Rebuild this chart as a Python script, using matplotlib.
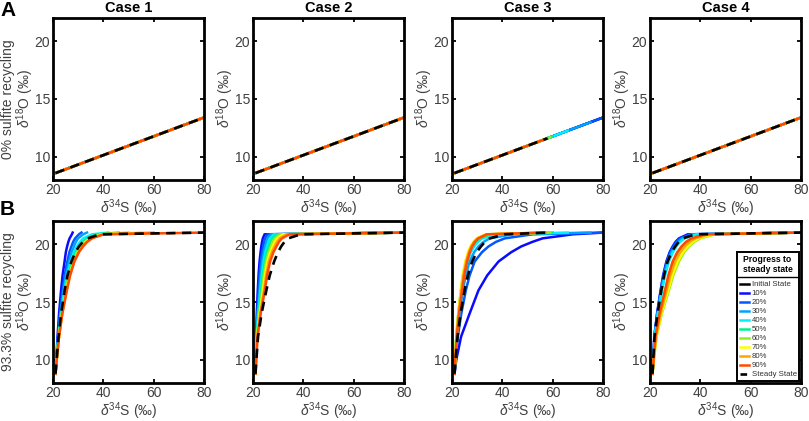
import matplotlib
matplotlib.use('Agg')
import matplotlib.pyplot as plt
from matplotlib.lines import Line2D

plt.rcParams['font.family'] = ['Liberation Sans', 'DejaVu Sans']
plt.rcParams['mathtext.fontset'] = 'custom'
plt.rcParams['mathtext.rm'] = 'Liberation Sans'
plt.rcParams['mathtext.it'] = 'Liberation Sans:italic'

cases = ['Case 1', 'Case 2', 'Case 3', 'Case 4']
progress = ['10%', '20%', '30%', '40%', '50%', '60%', '70%', '80%', '90%']
colours = ['#0a0aff', '#0058ff', '#00a2ff', '#00f0ff', '#00f090',
           '#8cf020', '#ffff00', '#ffa500', '#ff4a00']

# row A: straight lines (0% recycling)
a_start_x, a_start_y = 21.0, 8.6
a_end_x, a_end_y = 80.0, 13.4
case3_a_end_x = [80.0, 80.0, 75.0, 66.0, 60.0, 59.0, 57.0, 57.0, 57.0]
case3_a_end_y = [13.4, 13.4, 12.99, 12.26, 11.77, 11.69, 11.53, 11.53, 11.53]
case3_a_steady_end = (58.0, 11.61)

# row B: d34S read at these d18O levels (93.3% recycling)
y_levels = [8.8, 10.0, 12.0, 14.0, 16.0, 17.3, 18.5, 19.3, 19.8, 20.2, 20.5, 20.85, 21.0]

case1_b = [
    [21.0, 21.27, 21.8, 22.4, 23.2, 23.8, 24.6, 25.1, 25.6, 26.1, 26.6, 27.5, 27.8],
    [21.0, 21.34, 22.0, 22.8, 23.8, 24.6, 25.7, 26.5, 27.3, 28.0, 28.8, 30.3, 31.3],
    [21.0, 21.37, 22.1, 23.0, 24.2, 25.15, 26.4, 27.4, 28.3, 29.1, 30.0, 32.0, 33.5],
    [21.0, 21.41, 22.2, 23.2, 24.5, 25.6, 27.0, 28.3, 29.5, 30.7, 32.0, 35.5, 42.0],
    [21.0, 21.44, 22.3, 23.4, 24.9, 26.05, 27.6, 29.1, 30.4, 31.8, 33.5, 37.5, 46.0],
    [21.0, 21.44, 22.3, 23.5, 25.1, 26.35, 28.0, 29.6, 31.1, 32.7, 34.5, 38.8, 50.0],
    [21.0, 21.48, 22.4, 23.6, 25.3, 26.6, 28.3, 30.0, 31.5, 33.1, 35.0, 39.5, 55.0],
    [21.0, 21.48, 22.4, 23.7, 25.4, 26.7, 28.4, 30.1, 31.7, 33.4, 35.3, 39.8, 60.0],
    [21.0, 21.48, 22.4, 23.7, 25.5, 26.8, 28.5, 30.3, 31.9, 33.6, 35.5, 40.0, 80.0],
]
case1_b_steady = [21.0, 21.41, 22.2, 23.2, 24.6, 25.75, 27.3, 28.9, 30.3, 31.9, 33.8, 38.6, 80.0]

case2_b = [
    [21.0, 21.07, 21.2, 21.5, 21.9, 22.2, 22.6, 23.0, 23.3, 23.6, 23.9, 24.6, 80.0],
    [21.0, 21.1, 21.3, 21.7, 22.25, 22.6, 23.1, 23.6, 24.05, 24.4, 24.85, 25.85, 80.0],
    [21.0, 21.12, 21.35, 21.9, 22.6, 23.05, 23.65, 24.25, 24.8, 25.3, 25.8, 27.1, 80.0],
    [21.0, 21.15, 21.43, 22.1, 22.95, 23.5, 24.2, 24.9, 25.55, 26.1, 26.75, 28.3, 80.0],
    [21.0, 21.17, 21.5, 22.3, 23.3, 23.9, 24.7, 25.5, 26.3, 26.95, 27.7, 29.55, 80.0],
    [21.0, 21.2, 21.58, 22.5, 23.65, 24.3, 25.2, 26.2, 27.05, 27.8, 28.65, 30.8, 80.0],
    [21.0, 21.22, 21.65, 22.7, 24.0, 24.75, 25.75, 26.8, 27.8, 28.6, 29.6, 32.05, 80.0],
    [21.0, 21.25, 21.73, 22.9, 24.35, 25.2, 26.3, 27.5, 28.55, 29.5, 30.55, 33.3, 80.0],
    [21.0, 21.27, 21.8, 23.05, 24.7, 25.6, 26.8, 28.1, 29.3, 30.3, 31.5, 34.5, 80.0],
]
case2_b_steady = [21.0, 21.34, 22.0, 23.4, 25.3, 26.65, 28.4, 29.9, 31.2, 32.5, 34.0, 39.0, 80.0]

case3_b = [
    [21.0, 21.7, 23.6, 27.0, 30.5, 34.0, 38.5, 43.5, 47.5, 52.0, 56.0, 68.0, 80.0],
    [21.0, 21.44, 22.3, 23.7, 25.5, 27.0, 29.0, 31.9, 34.5, 37.5, 41.0, 52.0, 80.0],
    [21.0, 21.34, 22.0, 23.0, 24.3, 25.45, 27.0, 28.8, 30.5, 32.6, 35.0, 44.0, 75.0],
    [21.0, 21.27, 21.8, 22.7, 23.8, 24.75, 26.0, 27.5, 28.8, 30.3, 32.0, 38.0, 66.0],
    [21.0, 21.24, 21.7, 22.5, 23.6, 24.45, 25.6, 26.9, 28.0, 29.3, 30.8, 35.5, 60.0],
    [21.0, 21.24, 21.7, 22.5, 23.5, 24.3, 25.4, 26.6, 27.6, 28.8, 30.2, 34.5, 59.0],
    [21.0, 21.24, 21.7, 22.5, 23.5, 24.3, 25.3, 26.35, 27.3, 28.45, 29.8, 33.5, 57.0],
    [21.0, 21.27, 21.8, 22.6, 23.7, 24.5, 25.6, 26.65, 27.6, 28.75, 30.1, 33.7, 57.0],
    [21.0, 21.31, 21.9, 22.8, 24.0, 24.85, 26.0, 27.05, 28.0, 29.15, 30.5, 34.0, 57.0],
]
case3_b_steady = [21.0, 21.41, 22.2, 23.4, 25.0, 26.3, 28.0, 29.8, 31.5, 33.1, 35.0, 41.0, 58.0]

case4_b = [
    [21.0, 21.24, 21.7, 22.8, 24.2, 25.2, 26.5, 27.8, 29.0, 30.15, 31.5, 35.0, 80.0],
    [21.0, 21.26, 21.75, 22.85, 24.3, 25.35, 26.7, 28.05, 29.3, 30.55, 32.0, 36.0, 80.0],
    [21.0, 21.27, 21.8, 23.0, 24.5, 25.6, 27.0, 28.5, 29.8, 31.2, 32.8, 37.0, 80.0],
    [21.0, 21.31, 21.9, 23.15, 24.8, 26.0, 27.5, 29.1, 30.5, 32.0, 33.8, 38.5, 80.0],
    [21.0, 21.41, 22.2, 23.8, 26.0, 27.5, 29.5, 31.3, 33.0, 35.1, 37.5, 43.0, 80.0],
    [21.0, 21.54, 22.6, 24.7, 27.5, 29.25, 31.5, 33.6, 35.5, 37.6, 40.0, 46.0, 80.0],
    [21.0, 21.51, 22.5, 24.5, 27.2, 28.85, 31.0, 33.1, 35.0, 37.0, 39.3, 45.0, 80.0],
    [21.0, 21.48, 22.4, 24.2, 26.6, 28.1, 30.0, 32.0, 33.8, 35.7, 38.0, 43.5, 80.0],
    [21.0, 21.41, 22.2, 23.8, 26.0, 27.3, 29.0, 30.8, 32.5, 34.3, 36.5, 42.0, 80.0],
]
case4_b_steady = [21.0, 21.27, 21.8, 23.0, 24.5, 25.6, 27.0, 28.6, 30.0, 31.4, 33.0, 38.0, 80.0]

b_curves = [case1_b, case2_b, case3_b, case4_b]
b_steady = [case1_b_steady, case2_b_steady, case3_b_steady, case4_b_steady]

W, H = 809, 421
fig = plt.figure(figsize=(W / 100, H / 100), dpi=100)

lefts = [53, 253, 452, 650]
tick_grey = '#404040'
xlab = r'$\delta^{34}$S (‰)'
ylab = r'$\delta^{18}$O (‰)'
dash = (0, (3.5, 2.5))


def style_axes(ax):
    ax.set_xlim(20, 80)
    ax.set_ylim(8, 22)
    ax.set_xticks([20, 40, 60, 80])
    ax.set_yticks([10, 15, 20])
    ax.tick_params(direction='in', length=3, width=1.3, top=True, right=True,
                   labelsize=10, labelcolor=tick_grey, color='black', pad=2.2)
    for s in ax.spines.values():
        s.set_linewidth(2.0)
        s.set_color('black')
    ax.set_xlabel(xlab, fontsize=10, color=tick_grey, labelpad=0)
    ax.set_ylabel(ylab, fontsize=10, color=tick_grey)
    ax.yaxis.set_label_coords(-0.115, 0.5)


axes_a, axes_b = [], []
for i in range(4):
    axes_a.append(fig.add_axes([lefts[i] / W, 1 - 180 / H, 151 / W, 162 / H]))
    axes_b.append(fig.add_axes([lefts[i] / W, 1 - 383 / H, 151 / W, 162 / H]))

# row A
for i, ax in enumerate(axes_a):
    ax.plot([a_start_x, a_end_x], [a_start_y, a_end_y], color='black', lw=1.8)
    for j in range(9):
        if i == 2:
            ex, ey = case3_a_end_x[j], case3_a_end_y[j]
        else:
            ex, ey = a_end_x, a_end_y
        ax.plot([a_start_x, ex], [a_start_y, ey], color=colours[j], lw=1.8)
    if i == 2:
        ex, ey = case3_a_steady_end
    else:
        ex, ey = a_end_x, a_end_y
    ax.plot([a_start_x, ex], [a_start_y, ey], color='black', lw=1.9, linestyle=dash)
    style_axes(ax)
    ax.set_title(cases[i], fontsize=10.5, fontweight='bold', pad=4)

# row B
for i, ax in enumerate(axes_b):
    for j in range(9):
        xs = b_curves[i][j]
        ax.plot(xs, y_levels[:len(xs)], color=colours[j], lw=1.8)
    xs = b_steady[i]
    ax.plot(xs, y_levels[:len(xs)], color='black', lw=1.9, linestyle=dash)
    style_axes(ax)

# row labels and panel letters
fig.text(8 / W, 1 - 99 / H, '0% sulfite recycling', rotation=90, ha='center',
         va='center', fontsize=10, color=tick_grey)
fig.text(8 / W, 1 - 302 / H, '93.3% sulfite recycling', rotation=90, ha='center',
         va='center', fontsize=10, color=tick_grey)
fig.text(0 / W, 1 - 1 / H, 'A', ha='left', va='top', fontsize=15, fontweight='bold')
fig.text(0 / W, 1 - 200 / H, 'B', ha='left', va='top', fontsize=15, fontweight='bold')

# legend
handles = [Line2D([], [], color='black', lw=1.8)]
handles += [Line2D([], [], color=c, lw=1.8) for c in colours]
handles += [Line2D([], [], color='black', lw=1.9, linestyle=(0, (2.5, 1.5)))]
labels = ['Initial State'] + progress + ['Steady State']
leg = axes_b[3].legend(handles, labels, loc='lower right',
                       bbox_to_anchor=(0.99, 0.012), fontsize=5.6,
                       title='Progress to\nsteady state', title_fontsize=6.2,
                       handlelength=1.2, handletextpad=0.3, labelspacing=0.2,
                       borderpad=0.35, borderaxespad=0.0, fancybox=False,
                       framealpha=1)
leg.get_title().set_fontweight('bold')
leg.get_frame().set_edgecolor('black')
leg.get_frame().set_linewidth(1.4)
for t in leg.get_texts():
    t.set_color('#303030')
# more room between the title and the entries
leg._legend_box.sep = 5

# separator under the legend title, like the original
fig.canvas.draw()
renderer = fig.canvas.get_renderer()
fb = leg.get_frame().get_window_extent(renderer)
tb = leg.get_title().get_window_extent(renderer)
sep_y = tb.y0 - 3
fig.add_artist(Line2D([fb.x0 / W, fb.x1 / W], [sep_y / H, sep_y / H],
                      color='black', lw=1.0, transform=fig.transFigure))

fig.savefig('out.png', dpi=100)
